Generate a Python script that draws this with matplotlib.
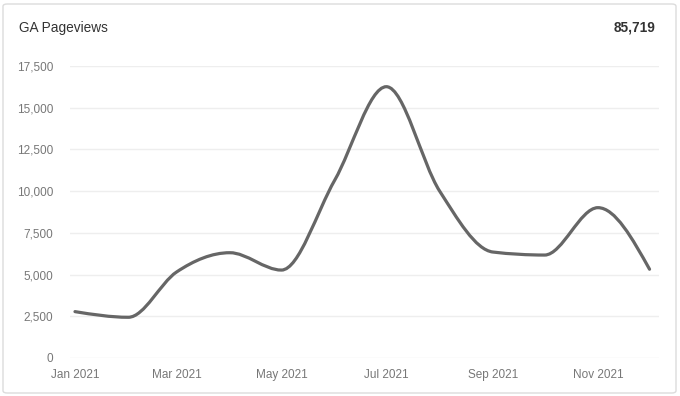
import numpy as np
import matplotlib
matplotlib.use('Agg')
from matplotlib import pyplot as plt
import matplotlib.dates as mdates
from matplotlib.path import Path
from matplotlib.patches import PathPatch, FancyBboxPatch
from datetime import date

plt.rcParams['font.family'] = ['Liberation Sans', 'DejaVu Sans']

# monthly GA pageviews, 2021
months = [date(2021, m, 1) for m in range(1, 13)]
pageviews = [2779, 2440, 5150, 6310, 5270, 10660, 16260, 10000, 6350, 6170, 9010, 5320]
y_ticks = [0, 2500, 5000, 7500, 10000, 12500, 15000, 17500]
x_ticks = [date(2021, m, 1) for m in (1, 3, 5, 7, 9, 11)]

title = 'GA Pageviews'
total = sum(pageviews)


def monotone_path(x, y):
    # monotone cubic (like d3 curveMonotoneX) as bezier segments
    x = np.asarray(x, float)
    y = np.asarray(y, float)
    n = len(x)
    h = np.diff(x)
    s = np.diff(y) / h
    t = np.zeros(n)
    for i in range(1, n - 1):
        p = (s[i - 1] * h[i] + s[i] * h[i - 1]) / (h[i - 1] + h[i])
        t[i] = (np.sign(s[i - 1]) + np.sign(s[i])) * min(abs(s[i - 1]), abs(s[i]), 0.5 * abs(p))
    t[0] = (3 * s[0] - t[1]) / 2
    t[-1] = (3 * s[-1] - t[-2]) / 2
    verts = [(x[0], y[0])]
    codes = [Path.MOVETO]
    for i in range(n - 1):
        dx = h[i] / 3
        verts += [(x[i] + dx, y[i] + dx * t[i]),
                  (x[i + 1] - dx, y[i + 1] - dx * t[i + 1]),
                  (x[i + 1], y[i + 1])]
        codes += [Path.CURVE4] * 3
    return Path(verts, codes)


fig = plt.figure(figsize=(6.8, 3.96), dpi=100)

# card outline, kept behind the axes
card = FancyBboxPatch((3 / 680, 3 / 396), 673 / 680, 389 / 396,
                      boxstyle='round,pad=0,rounding_size=0.006',
                      transform=fig.transFigure, facecolor='white',
                      edgecolor='#dcdcdc', linewidth=1, zorder=-5)
fig.patches.append(card)

fig.text(19 / 680, 1 - 28 / 396, title, fontsize=9.8, color='#333333', va='center', ha='left')
fig.text(656 / 680, 1 - 28 / 396, f'{total:,}', fontsize=9.8, color='#333333',
         fontweight='bold', va='center', ha='right')

ax = fig.add_axes([70 / 680, 38 / 396, 589 / 680, 292 / 396])
ax.set_facecolor('none')

xs = mdates.date2num(months)
ax.add_patch(PathPatch(monotone_path(xs, pageviews), fill=False, edgecolor='#666666',
                       linewidth=2.3, capstyle='round', joinstyle='round', zorder=3))

x0 = mdates.date2num(date(2021, 1, 1))
ax.set_xlim(x0 - 2.9, x0 + 339.5)
ax.set_ylim(0, 17500)

ax.set_yticks(y_ticks)
ax.set_yticklabels([f'{v:,}' for v in y_ticks])
ax.set_xticks(mdates.date2num(x_ticks))
ax.set_xticklabels([d.strftime('%b %Y') for d in x_ticks])

ax.grid(axis='y', color='#eeeeee', linewidth=1)
ax.set_axisbelow(True)
for sp in ax.spines.values():
    sp.set_visible(False)
ax.tick_params(axis='both', length=0, labelsize=8.5, labelcolor='#777777')
ax.tick_params(axis='y', pad=12)
ax.tick_params(axis='x', pad=8)

fig.savefig('out.png', dpi=100)
